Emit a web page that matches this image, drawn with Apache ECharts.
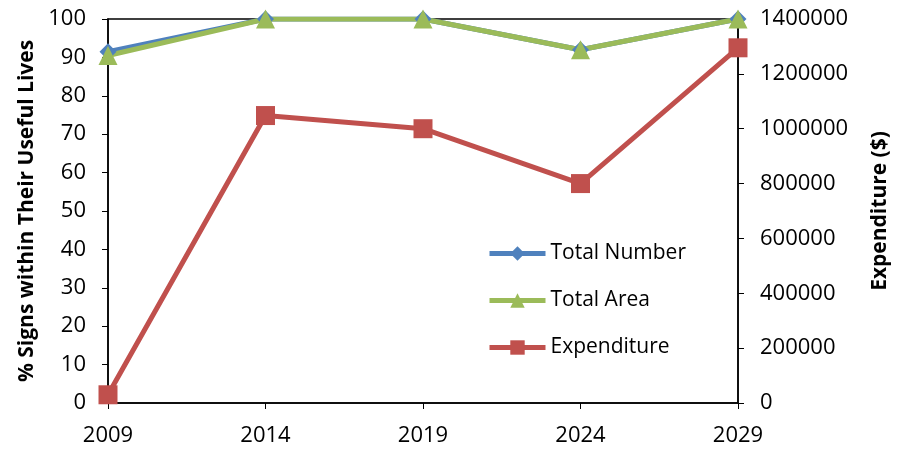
<!DOCTYPE html>
<html>
<head>
<meta charset="utf-8">
<script src="https://cdn.jsdelivr.net/npm/echarts@6/dist/echarts.min.js"></script>
<style>
  html, body { margin: 0; padding: 0; background: #fff; }
  #chart { width: 898px; height: 453px; }
</style>
</head>
<body>
<div id="chart"></div>
<script>
// data
const years = ['2009', '2014', '2019', '2024', '2029'];
const totalNumber = [91.5, 100, 100, 92, 100];
const totalArea = [90.5, 100, 100, 92, 100];
const expenditure = [30000, 1048000, 1000000, 800000, 1295000];

const font = '"Open Sans", Lato, sans-serif';

const chart = echarts.init(document.getElementById('chart'));

function lineSeries(name, data, color, symbol, size, yIndex) {
  return {
    name: name,
    type: 'line',
    data: data,
    yAxisIndex: yIndex,
    symbol: symbol,
    symbolSize: size,
    lineStyle: { color: color, width: 5 },
    itemStyle: { color: color },
    z: 3
  };
}

chart.setOption({
  animation: false,
  textStyle: { fontFamily: font },
  grid: {
    left: 108, right: 160, top: 19, bottom: 50,
    outerBoundsMode: 'none',
    show: true, borderColor: '#000', borderWidth: 1.5
  },
  legend: {
    orient: 'vertical',
    left: 487,
    top: 243,
    padding: 0,
    itemWidth: 56,
    itemHeight: 18,
    itemGap: 26,
    lineStyle: { width: 5 },
    textStyle: { fontSize: 21, color: '#000', fontFamily: font },
    data: ['Total Number', 'Total Area', 'Expenditure']
  },
  xAxis: {
    type: 'category',
    data: years,
    boundaryGap: false,
    axisLine: { lineStyle: { color: '#000', width: 1.5 } },
    axisTick: { alignWithLabel: true, length: 6, lineStyle: { color: '#000' } },
    axisLabel: { color: '#000', fontSize: 22, margin: 22, fontFamily: font }
  },
  yAxis: [
    {
      type: 'value',
      min: 0, max: 100, interval: 10,
      name: '% Signs within Their Useful Lives',
      nameLocation: 'middle',
      nameRotate: 90,
      nameGap: 68,
      nameTextStyle: { fontSize: 21, fontWeight: 'bold', color: '#000', fontFamily: font },
      axisLine: { show: true, lineStyle: { color: '#000', width: 1.5 } },
      axisTick: { show: true, length: 6, lineStyle: { color: '#000' } },
      axisLabel: { color: '#000', fontSize: 22, margin: 22, fontFamily: font },
      splitLine: { show: false }
    },
    {
      type: 'value',
      position: 'right',
      min: 0, max: 1400000, interval: 200000,
      name: 'Expenditure ($)',
      nameLocation: 'middle',
      nameRotate: 90,
      nameGap: 132,
      nameTextStyle: { fontSize: 21, fontWeight: 'bold', color: '#000', fontFamily: font },
      axisLine: { show: true, lineStyle: { color: '#000', width: 1.5 } },
      axisTick: { show: true, length: 6, lineStyle: { color: '#000' } },
      axisLabel: {
        color: '#000', fontSize: 22, margin: 22, fontFamily: font,
        formatter: function (v) { return String(v); }
      },
      splitLine: { show: false }
    }
  ],
  series: [
    lineSeries('Total Number', totalNumber, '#4F81BD', 'diamond', 17, 0),
    lineSeries('Total Area', totalArea, '#9BBB59', 'triangle', 19, 0),
    lineSeries('Expenditure', expenditure, '#C0504D', 'rect', 19, 1)
  ]
});
</script>
</body>
</html>
